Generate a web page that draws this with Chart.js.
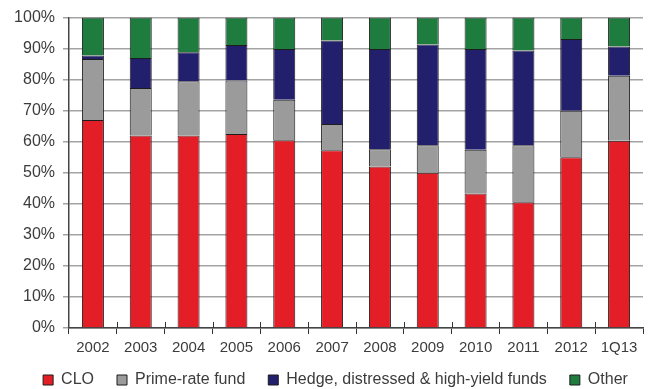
<!DOCTYPE html>
<html>
<head>
<meta charset="utf-8">
<script src="https://cdn.jsdelivr.net/npm/chart.js@4/dist/chart.umd.min.js"></script>
<style>
  html, body { margin: 0; padding: 0; background: #ffffff; }
  #wrap { width: 653px; height: 389px; }
</style>
</head>
<body>
<div id="wrap"><canvas id="c" width="653" height="389"></canvas></div>
<script>
// Share of leveraged-loan investors by year (percent of total)
const categories = ['2002', '2003', '2004', '2005', '2006', '2007', '2008', '2009', '2010', '2011', '2012', '1Q13'];
const clo    = [67, 62, 62, 62.5, 60.5, 57.3, 52, 50, 43.3, 40.5, 55, 60.3];
const prime  = [19.7, 15.3, 17.5, 17.2, 13, 8.4, 5.6, 8.9, 14.1, 18.4, 15, 21];
const hedge  = [1.1, 9.7, 9.3, 11.5, 16.4, 26.9, 32.3, 32.4, 32.5, 30.5, 23.1, 9.4];
const other  = [12.2, 13, 11.2, 8.8, 10.1, 7.4, 10.1, 8.7, 10.1, 10.6, 6.9, 9.3];
const yTicks = [0, 10, 20, 30, 40, 50, 60, 70, 80, 90, 100];

const FAMILY = "'Liberation Sans', Arial, sans-serif";
const TEXT = '#3c3c3c';

function series(label, data, color) {
  return {
    label, data,
    backgroundColor: color,
    borderColor: '#1c1c1c',
    borderWidth: 1,
    barPercentage: 0.46,
    categoryPercentage: 1.0
  };
}

// Short tick marks that cross up into the plot at each category boundary
const innerTicks = {
  id: 'innerTicks',
  afterDatasetsDraw(chart) {
    const xs = chart.scales.x;
    const ctx = chart.ctx;
    const step = xs.getPixelForValue(1) - xs.getPixelForValue(0);
    ctx.save();
    ctx.strokeStyle = '#333333';
    ctx.lineWidth = 1;
    for (let i = 1; i < categories.length; i++) {
      const x = Math.round(xs.getPixelForValue(i) - step / 2) + 0.5;
      ctx.beginPath();
      ctx.moveTo(x, xs.top - 6);
      ctx.lineTo(x, xs.top);
      ctx.stroke();
    }
    ctx.restore();
  }
};

// Pull the legend row a little closer to the axis labels and centre it under the plot
const legendNudge = {
  id: 'legendNudge',
  afterLayout(chart) {
    const lg = chart.legend;
    if (!lg) return;
    const dy = -9, dx = 14;
    lg.top += dy; lg.bottom += dy;
    lg.left += dx; lg.right += dx;
  }
};

new Chart(document.getElementById('c'), {
  type: 'bar',
  data: {
    labels: categories,
    datasets: [
      series('CLO', clo, '#e41e27'),
      series('Prime-rate fund', prime, '#9b9b9b'),
      series('Hedge, distressed & high-yield funds', hedge, '#221f6c'),
      series('Other', other, '#1e7c3f')
    ]
  },
  plugins: [innerTicks, legendNudge],
  options: {
    responsive: false,
    devicePixelRatio: 1,
    animation: false,
    layout: { padding: { left: 0, right: 10, top: 17, bottom: -18 } },
    plugins: {
      tooltip: { enabled: false },
      legend: {
        position: 'bottom',
        align: 'center',
        labels: {
          font: { family: FAMILY, size: 16 },
          color: TEXT,
          boxWidth: 10,
          boxHeight: 10,
          padding: 23
        }
      }
    },
    scales: {
      x: {
        stacked: true,
        offset: true,
        grid: {
          offset: true,
          drawOnChartArea: false,
          drawTicks: true,
          tickLength: 6,
          color: '#333333'
        },
        border: { color: '#444444', width: 1.5 },
        ticks: { font: { family: FAMILY, size: 15 }, color: TEXT, padding: 5, maxRotation: 0 },
        afterFit(scale) { scale.height = 30; }
      },
      y: {
        stacked: true,
        min: 0,
        max: 100,
        afterBuildTicks(scale) { scale.ticks = yTicks.map(v => ({ value: v })); },
        grid: { color: '#a3a3a3', lineWidth: 1.5, tickLength: 6 },
        border: { color: '#444444', width: 1.5 },
        ticks: {
          font: { family: FAMILY, size: 16 },
          color: TEXT,
          padding: 8,
          callback: v => v + '%'
        },
        afterFit(scale) { scale.width = 69; }
      }
    }
  }
});
</script>
</body>
</html>
